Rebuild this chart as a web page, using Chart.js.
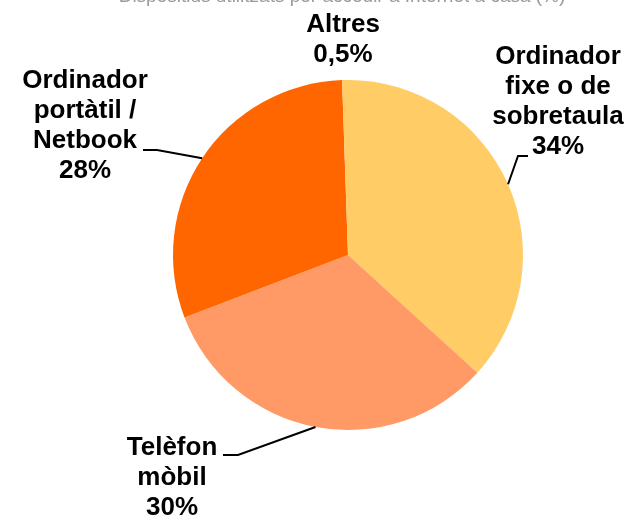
<!DOCTYPE html>
<html>
<head>
<meta charset="utf-8">
<script src="https://cdn.jsdelivr.net/npm/chart.js@4"></script>
<style>
  html, body { margin: 0; padding: 0; background: #fff; }
  #wrap { width: 636px; height: 521px; position: relative; }
</style>
</head>
<body>
<div id="wrap"><canvas id="pie"></canvas></div>
<script>
// Values
const labels = ['Ordinador fixe o de sobretaula', 'Telèfon mòbil', 'Ordinador portàtil / Netbook', 'Altres'];
const values = [34, 30, 28, 0.5];
const labelLines = [
  ['Ordinador', 'fixe o de', 'sobretaula', '34%'],
  ['Telèfon', 'mòbil', '30%'],
  ['Ordinador', 'portàtil /', 'Netbook', '28%'],
  ['Altres', '0,5%']
];
const colors = ['#FFCC66', '#FF9966', '#FF6600', '#FFCC66'];
const titleText = 'Dispositius utilitzats per accedir a Internet a casa (%)';

// where each label block sits and how its leader line bends
const labelLayout = [
  { x: 558, y: 64, elbow: [518, 156], end: [528, 156] },
  { x: 172, y: 455, elbow: [238, 455], end: [223, 455] },
  { x: 85, y: 88, elbow: [157, 150], end: [143, 150] },
  { x: 343, y: 32, elbow: null, end: null }
];
const lineHeight = 30;

const outsideLabels = {
  id: 'outsideLabels',
  afterDraw(chart) {
    const ctx = chart.ctx;
    const meta = chart.getDatasetMeta(0);
    ctx.save();

    // grey title, cut off by the top edge
    ctx.fillStyle = '#9a9a9a';
    ctx.font = '19px "Liberation Sans", Arial, sans-serif';
    ctx.textAlign = 'center';
    ctx.textBaseline = 'alphabetic';
    ctx.fillText(titleText, 342, 2);

    meta.data.forEach((arc, i) => {
      const lay = labelLayout[i];
      if (lay.elbow) {
        const mid = (arc.startAngle + arc.endAngle) / 2;
        const px = arc.x + Math.cos(mid) * arc.outerRadius;
        const py = arc.y + Math.sin(mid) * arc.outerRadius;
        ctx.strokeStyle = '#000';
        ctx.lineWidth = 2;
        ctx.beginPath();
        ctx.moveTo(px, py);
        ctx.lineTo(lay.elbow[0], lay.elbow[1]);
        ctx.lineTo(lay.end[0], lay.end[1]);
        ctx.stroke();
      }
      ctx.fillStyle = '#000';
      ctx.font = 'bold 26px "Liberation Sans", Arial, sans-serif';
      ctx.textAlign = 'center';
      ctx.textBaseline = 'alphabetic';
      labelLines[i].forEach((t, j) => {
        ctx.fillText(t, lay.x, lay.y + j * lineHeight);
      });
    });
    ctx.restore();
  }
};

new Chart(document.getElementById('pie'), {
  type: 'pie',
  data: {
    labels: labels,
    datasets: [{
      data: values,
      backgroundColor: colors,
      borderWidth: 0
    }]
  },
  options: {
    responsive: true,
    maintainAspectRatio: false,
    animation: false,
    layout: { padding: { top: 80, bottom: 91, left: 173, right: 113 } },
    plugins: {
      legend: { display: false },
      tooltip: { enabled: false }
    }
  },
  plugins: [outsideLabels]
});
</script>
</body>
</html>
